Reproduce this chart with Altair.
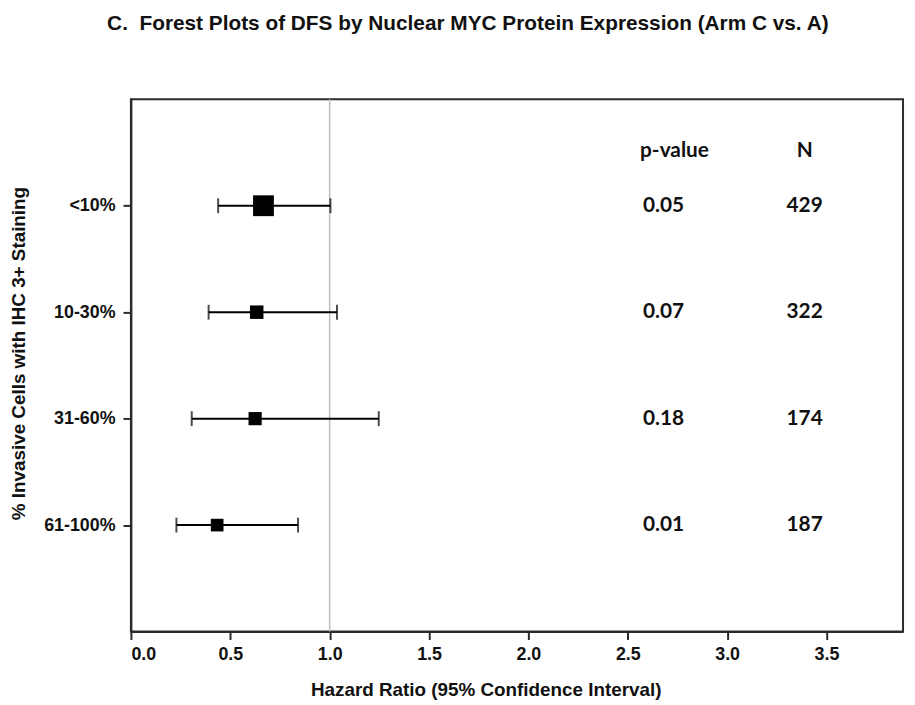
import json
import altair as alt
import pandas as pd

# ---- data ----
categories = ["<10%", "10-30%", "31-60%", "61-100%"]
hazard_ratio = [0.667, 0.633, 0.625, 0.434]
ci_low = [0.439, 0.391, 0.306, 0.229]
ci_high = [1.004, 1.037, 1.247, 0.841]
p_values = ["0.05", "0.07", "0.18", "0.01"]
n_patients = ["429", "322", "174", "187"]
rel_weight = [1.0, 0.42, 0.40, 0.37]
x_ticks = [0.0, 0.5, 1.0, 1.5, 2.0, 2.5, 3.0, 3.5]
headers = ["p-value", "N"]

df = pd.DataFrame({
    "row": list(range(1, len(categories) + 1)),
    "cat": categories,
    "hr": hazard_ratio,
    "lo": ci_low,
    "hi": ci_high,
    "p": p_values,
    "n": n_patients,
    "w": rel_weight,
})

AX = "#2b2b2b"
FONT = "Liberation Sans"

x_scale = alt.Scale(domain=[0, 3.885], nice=False, zero=False)
y_scale = alt.Scale(domain=[0, 5], reverse=True, nice=False, zero=False)

x_axis = alt.Axis(
    values=x_ticks, format=".1f", grid=False,
    title="Hazard Ratio (95% Confidence Interval)",
    labelFont=FONT, labelFontSize=18, labelFontWeight="bold", labelColor="#111",
    labelPadding=6, tickSize=8, tickWidth=2, tickColor=AX,
    domainColor=AX, domainWidth=2,
    titleFont=FONT, titleFontSize=19, titleFontWeight="bold", titleColor="#111",
    titleX=358, titleY=65, titleBaseline="alphabetic",
)
y_axis = alt.Axis(
    values=[1, 2, 3, 4],
    labelExpr=json.dumps(categories) + "[datum.value - 1]",
    grid=False,
    title="% Invasive Cells with IHC 3+ Staining",
    labelFont=FONT, labelFontSize=18, labelFontWeight="bold", labelColor="#111",
    labelPadding=8, tickSize=8, tickWidth=2, tickColor=AX,
    domainColor=AX, domainWidth=2,
    titleFont=FONT, titleFontSize=19, titleFontWeight="bold", titleColor="#111",
    titleAngle=-90, titleX=-113, titleY=256, titleBaseline="middle", titleAlign="center",
)


def X(field):
    return alt.X(field, type="quantitative", scale=x_scale, axis=x_axis)


def Y(field):
    return alt.Y(field, type="quantitative", scale=y_scale, axis=y_axis)


base = alt.Chart(df)

ref_line = alt.Chart(pd.DataFrame({"ref": [1.0]})).mark_rule(
    color="#bdbdbd", strokeWidth=1.5
).encode(x=X("ref"))

ci_line = base.mark_rule(color="black", strokeWidth=2).encode(
    x=X("lo"), x2="hi", y=Y("row")
)

caps = base.transform_fold(["lo", "hi"], as_=["end", "val"]).mark_tick(
    orient="vertical", size=15, thickness=2, color="black"
).encode(x=X("val"), y=Y("row"))

squares = base.mark_square(filled=True, color="black", opacity=1).encode(
    x=X("hr"), y=Y("row"),
    size=alt.Size("w:Q", scale=alt.Scale(domain=[0, 1], range=[0, 441]), legend=None),
)

txt_style = dict(font="Lato", fontWeight="bold", fontSize=21, color="#111", align="center", baseline="middle")

p_text = base.mark_text(**txt_style).encode(x=alt.datum(2.68), y=Y("row"), text="p:N")
n_text = base.mark_text(**txt_style).encode(x=alt.datum(3.39), y=Y("row"), text="n:N")

hdr_df = pd.DataFrame({"h": headers, "hx": [2.735, 3.39], "hy": [0.49, 0.49]})
hdr_text = alt.Chart(hdr_df).mark_text(**txt_style).encode(
    x=X("hx"), y=Y("hy"), text="h:N"
)

chart = alt.layer(ref_line, ci_line, caps, squares, p_text, n_text, hdr_text).properties(
    width=779,
    height=537,
    background="white",
    autosize=alt.AutoSizeParams(type="none"),
    padding={"left": 124, "top": 89, "right": 4, "bottom": 71},
    title=alt.TitleParams(
        "C.\u00a0\u00a0Forest Plots of DFS by Nuclear MYC Protein Expression (Arm C vs. A)",
        anchor="start", frame="group", dx=-24, offset=65, font=FONT, fontSize=21,
        fontWeight="bold", color="#111",
    ),
).configure_view(stroke=AX, strokeWidth=2)

chart.save("out.html", embed_options={"renderer": "svg", "actions": False})
